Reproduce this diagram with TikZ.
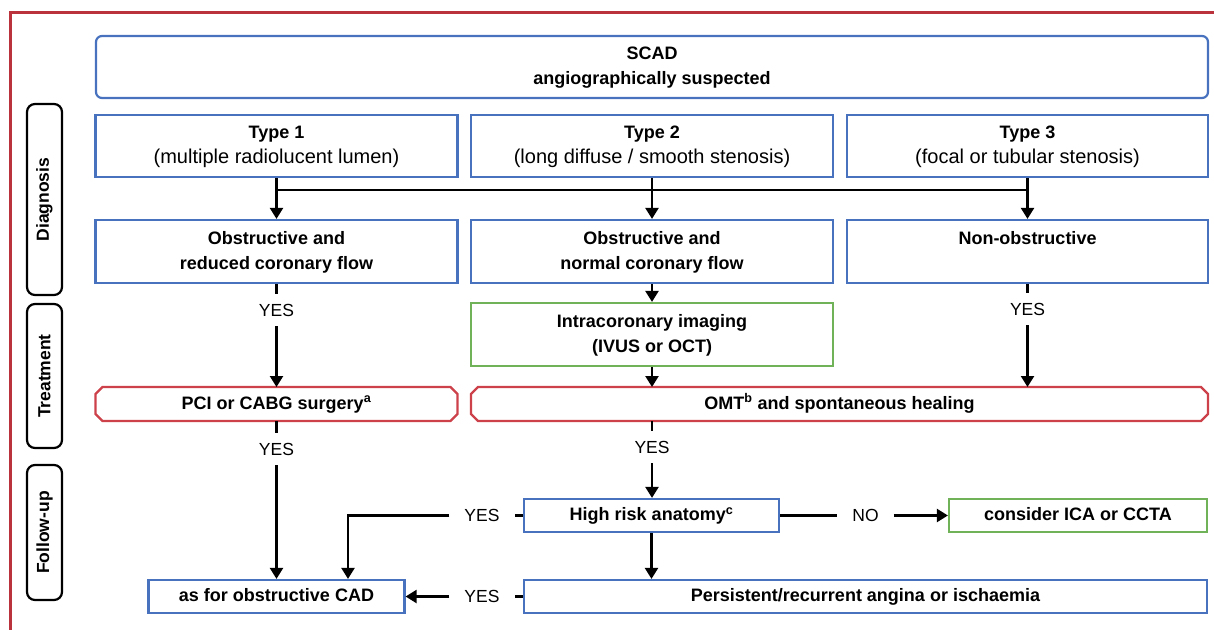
\documentclass[tikz,border=0pt]{standalone}
\usepackage{fontspec}
\setmainfont{Liberation Sans}
\usetikzlibrary{arrows.meta,calc}
\definecolor{bblue}{RGB}{72,114,190}
\definecolor{bgreen}{RGB}{112,178,88}
\definecolor{bred}{RGB}{205,65,75}
\definecolor{fred}{RGB}{185,50,60}
\newcommand\subt[1]{{\fontsize{20}{25}\selectfont\mdseries #1\strut}}
\newcommand\chamf[1]{\draw[redline] ([xshift=7pt]#1.north west) -- ([xshift=-7pt]#1.north east) -- ([yshift=-7pt]#1.north east) -- ([yshift=7pt]#1.south east) -- ([xshift=-7pt]#1.south east) -- ([xshift=7pt]#1.south west) -- ([yshift=7pt]#1.south west) -- ([yshift=-7pt]#1.north west) -- cycle;}
\tikzset{
  base/.style={rectangle, inner sep=0pt, align=center, font=\fontsize{18}{25}\selectfont\bfseries, text=black},
  bluebox/.style={base, draw=bblue, line width=2.2pt},
  greenbox/.style={base, draw=bgreen, line width=2.2pt},
  redbox/.style={base, draw=none, outer sep=0pt},
  redline/.style={draw=bred, line width=2.4pt, line join=miter},
  side/.style={rectangle, rounded corners=8pt, draw=black, line width=2.2pt, font=\fontsize{17.5}{25}\selectfont\bfseries, rotate=90, inner sep=0pt},
  conn/.style={line width=2.3pt, black},
  arr/.style={conn, -{Triangle[length=11pt,width=13pt]}},
  lab/.style={font=\fontsize{17.5}{20}\selectfont, inner xsep=15pt, inner ysep=10pt},
}
\begin{document}
\begin{tikzpicture}[x=1pt,y=-1pt]
\useasboundingbox (0,0) rectangle (1214,629);
% frame
\draw[fred, line width=3pt] (10,640) -- (10,12) -- (1225,12);
% side labels
\node[side, minimum width=191pt, minimum height=35pt] (diag) at (44.5,199.5) {Diagnosis};
\node[side, minimum width=144pt, minimum height=35pt] (treat) at (44.5,376) {Treatment};
\node[side, minimum width=135pt, minimum height=35pt] (fu) at (44.5,532.5) {Follow-up};
% boxes
\node[bluebox, rounded corners=6pt, minimum width=1112pt, minimum height=62pt] (scad) at (652,67) {SCAD\strut\\angiographically suspected\strut};
\node[bluebox, minimum width=362pt, minimum height=62pt] (t1) at (276.5,146) {Type 1\strut\\\subt{(multiple radiolucent lumen)}};
\node[bluebox, minimum width=362pt, minimum height=62pt] (t2) at (652,146) {Type 2\strut\\\subt{(long diffuse / smooth stenosis)}};
\node[bluebox, minimum width=361pt, minimum height=62pt] (t3) at (1027.5,146) {Type 3\strut\\\subt{(focal or tubular stenosis)}};
\node[bluebox, minimum width=362pt, minimum height=63pt] (o1) at (276.5,251.5) {Obstructive and\strut\\reduced coronary flow\strut};
\node[bluebox, minimum width=362pt, minimum height=63pt] (o2) at (652,251.5) {Obstructive and\strut\\normal coronary flow\strut};
\node[bluebox, minimum width=361pt, minimum height=63pt] (o3) at (1027.5,251.5) {Non-obstructive\strut\\\strut};
\node[greenbox, minimum width=362pt, minimum height=63pt] (img) at (652,334.5) {Intracoronary imaging\strut\\(IVUS or OCT)\strut};
\node[redbox, minimum width=362pt, minimum height=34pt] (pci) at (276.5,404) {PCI or CABG surgery\textsuperscript{a}\strut};
\chamf{pci}
\node[redbox, minimum width=737pt, minimum height=34pt] (omt) at (839.5,404) {OMT\textsuperscript{b} and spontaneous healing\strut};
\chamf{omt}
\node[bluebox, minimum width=255pt, minimum height=33pt] (hr) at (651.5,515.5) {High risk anatomy\textsuperscript{c}\strut};
\node[greenbox, minimum width=258pt, minimum height=33pt] (ica) at (1078,515.5) {consider ICA or CCTA\strut};
\node[bluebox, minimum width=683pt, minimum height=33pt] (pers) at (865.5,596.5) {Persistent/recurrent angina or ischaemia\strut};
\node[bluebox, minimum width=256pt, minimum height=33pt] (cad) at (276.5,596.5) {as for obstructive CAD\strut};
% labels
\node[lab] (y1) at (276.5,310) {YES};
\node[lab] (y3) at (1027.5,309) {YES};
\node[lab] (y2) at (276.5,449) {YES};
\node[lab] (y4) at (652,447) {YES};
\node[lab] (y5) at (482,515.5) {YES};
\node[lab] (no) at (865.5,515.5) {NO};
\node[lab] (y6) at (482,596.5) {YES};
\coordinate (jl) at (276.5,190);
\coordinate (jr) at (1027.5,190);
\coordinate (k) at (348,515.5);
% connectors
\draw[conn] (jl) -- (jr);
\draw[arr] (t1.south) -- (o1.north);
\draw[arr] (t2.south) -- (o2.north);
\draw[arr] (t3.south) -- (o3.north);
\draw[conn] (o1.south) -- (y1.north);
\draw[arr] (y1.south) -- (pci.north);
\draw[arr] (o2.south) -- (img.north);
\draw[conn] (o3.south) -- (y3.north);
\draw[arr] (y3.south) -- (y3.south |- omt.north);
\draw[arr] (img.south) -- (img.south |- omt.north);
\draw[conn] (pci.south) -- (y2.north);
\draw[arr] (y2.south) -- (cad.north);
\draw[conn] (y4.north |- omt.south) -- (y4.north);
\draw[arr] (y4.south) -- (y4.south |- hr.north);
\draw[conn] (hr.west) -- (y5.east);
\draw[arr] (y5.west) -- (k) -- (k |- cad.north);
\draw[conn] (hr.east) -- (no.west);
\draw[arr] (no.east) -- (ica.west);
\draw[arr] (hr.south) -- (hr.south |- pers.north);
\draw[conn] (pers.west) -- (y6.east);
\draw[arr] (y6.west) -- (cad.east);
\end{tikzpicture}
\end{document}
